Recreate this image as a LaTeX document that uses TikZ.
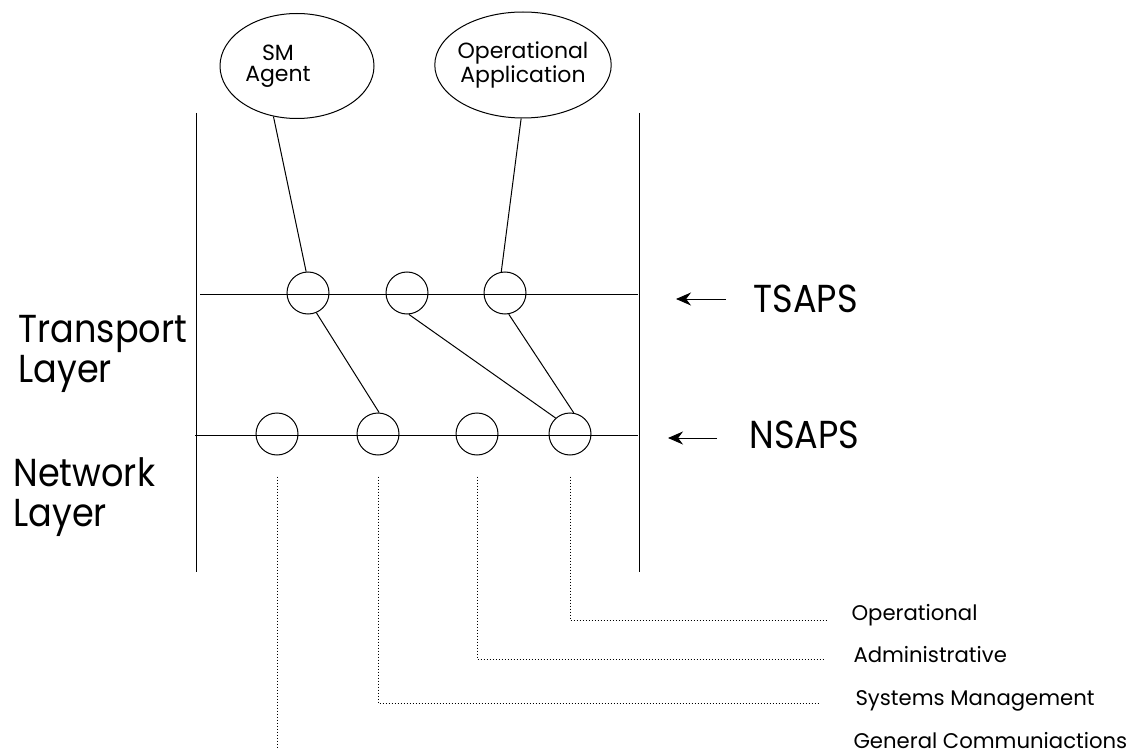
\documentclass[tikz,border=0pt]{standalone}
\usepackage{fontspec}
\setmainfont{Poppins}
\newfontfamily\narrowfont[FakeStretch=0.9]{Poppins}
\usetikzlibrary{shapes.geometric,arrows.meta}
\begin{document}
\begin{tikzpicture}[>={Stealth[length=7.5pt,width=6.5pt]},x=0.5pt,y=-0.5pt,line width=0.5pt,
		sap/.style={circle,draw,minimum size=21pt,inner sep=0pt},
		proc/.style={ellipse,draw,inner sep=0pt,align=center,font=\fontsize{11}{10.5}\selectfont},
		big/.style={font=\narrowfont\fontsize{19.5}{20}\selectfont,inner sep=0pt},
		small/.style={font=\fontsize{10.6}{12}\selectfont,inner sep=0pt,anchor=base west},
		feed/.style={densely dotted}]
	\useasboundingbox (0,0) rectangle (1142,749);
	% layer boundaries
	\draw (196,113) -- (196,572);
	\draw (639,113) -- (639,572);
	\draw (200,294) -- (638,294);
	\draw (195,435) -- (638,435);
	% access points
	\foreach \x [count=\i] in {308,407,505}
	\node[sap] (t\i) at (\x,293) {};
	\foreach \x [count=\i] in {277,378,477,570}
	\node[sap] (n\i) at (\x,434) {};
	% users
	\node[proc,minimum width=77pt,minimum height=52.5pt] (agent) at (297,66) {SM\hspace*{19pt}\\Agent\hspace*{19pt}};
	\node[proc,inner xsep=-1.5pt,minimum width=85pt,minimum height=53pt] (app) at (523,65) {Operational\\Application};
	\draw (agent.245) -- (t1.95);
	\draw (app.268) -- (t3.100);
	\draw (t1.-67) -- (n2.87);
	\draw (t2.-85) -- (n4.132);
	\draw (t3.-80) -- (n4.80);
	% layer names
	\node[big,anchor=north west,align=left] (tl) at (18,315) {Transport\\Layer};
	\node[big,anchor=north west,align=left] (nl) at (13,457) {Network\\Layer};
	\node[big,anchor=west] (tsaps) at (753,298.5) {TSAPS};
	\node[big,anchor=west] (nsaps) at (749,434.5) {NSAPS};
	\coordinate (ttip) at (676,299);
	\coordinate (ntip) at (668,438);
	\draw[->,shorten <=13.5pt] (tsaps.west |- ttip) -- (ttip);
	\draw[->,shorten <=16pt] (nsaps.west |- ntip) -- (ntip);
	% user classes
	\node[small] (op) at (851,620) {Operational};
	\node[small] (adm) at (853,662) {Administrative};
	\node[small] (sysm) at (855,705) {Systems Management};
	\node[small] (gc) at (853,748) {General Communiactions};
	\draw[feed,shorten >=12pt] ([yshift=-10.5pt]n4.south) |- (op.base west);
	\draw[feed,shorten >=15pt] ([yshift=-10.5pt]n3.south) |- ([yshift=1.5pt]adm.base west);
	\draw[feed,shorten >=18.5pt] ([yshift=-10.5pt]n2.south) |- ([yshift=1pt]sysm.base west);
	\draw[feed] ([yshift=-10.5pt]n1.south) -- (n1 |- gc.base);
\end{tikzpicture}
\end{document}
